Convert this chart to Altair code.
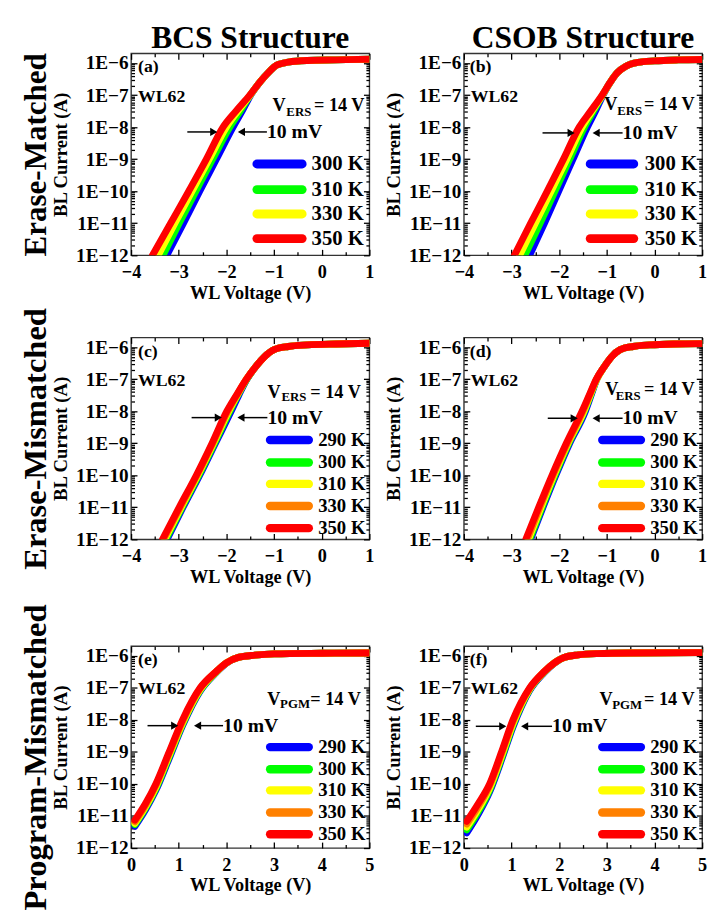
import altair as alt
import pandas as pd

FONT = "Liberation Serif"

# ---------------- data ----------------
# Panels (a)-(d): WL voltage (V) at each log10(BL current / A) level
LOG_STEEP = [-12, -11, -10, -9, -8, -7.5, -7]

A_TEMPS = ["300 K", "310 K", "330 K", "350 K"]
A_V_300 = [-3.25, -2.90, -2.56, -2.21, -1.86, -1.67, -1.49]
A_V_310 = [-3.33, -2.99, -2.64, -2.29, -1.93, -1.71, -1.50]
A_V_330 = [-3.43, -3.08, -2.72, -2.36, -2.00, -1.76, -1.50]
A_V_350 = [-3.55, -3.17, -2.79, -2.42, -2.07, -1.80, -1.51]
A_TAIL_V = [-1.30, -1.12, -0.95, -0.70, -0.30, 0.30, 1.00]
A_TAIL_LOG = [-6.60, -6.30, -6.07, -5.97, -5.92, -5.90, -5.88]

B_TEMPS = ["300 K", "310 K", "330 K", "350 K"]
B_V_300 = [-2.62, -2.31, -2.01, -1.71, -1.41, -1.24, -1.08]
B_V_310 = [-2.72, -2.40, -2.09, -1.78, -1.47, -1.28, -1.09]
B_V_330 = [-2.83, -2.50, -2.17, -1.84, -1.52, -1.31, -1.09]
B_V_350 = [-2.94, -2.60, -2.25, -1.91, -1.58, -1.34, -1.10]
B_TAIL_V = [-0.93, -0.78, -0.60, -0.35, 0.00, 0.50, 1.00]
B_TAIL_LOG = [-6.60, -6.30, -6.10, -5.98, -5.93, -5.90, -5.89]

C_TEMPS = ["290 K", "300 K", "310 K", "330 K", "350 K"]
C_V_290 = [-3.245, -2.91, -2.56, -2.23, -1.90, -1.74, -1.57]
C_V_300 = [-3.27, -2.93, -2.58, -2.25, -1.93, -1.76, -1.57]
C_V_310 = [-3.295, -2.95, -2.60, -2.27, -1.95, -1.77, -1.58]
C_V_330 = [-3.32, -2.97, -2.615, -2.285, -1.97, -1.78, -1.58]
C_V_350 = [-3.34, -2.99, -2.63, -2.30, -1.99, -1.79, -1.58]
C_TAIL_V = [-1.38, -1.20, -1.00, -0.70, -0.30, 0.30, 1.00]
C_TAIL_LOG = [-6.60, -6.30, -6.08, -5.98, -5.93, -5.90, -5.88]

D_TEMPS = ["290 K", "300 K", "310 K", "330 K", "350 K"]
D_V_290 = [-2.60, -2.34, -2.07, -1.78, -1.45, -1.33, -1.21]
D_V_300 = [-2.62, -2.36, -2.09, -1.80, -1.47, -1.34, -1.21]
D_V_310 = [-2.645, -2.38, -2.11, -1.815, -1.48, -1.35, -1.21]
D_V_330 = [-2.67, -2.405, -2.13, -1.83, -1.50, -1.36, -1.22]
D_V_350 = [-2.70, -2.43, -2.15, -1.85, -1.52, -1.37, -1.22]
D_TAIL_V = [-1.05, -0.90, -0.72, -0.45, -0.10, 0.40, 1.00]
D_TAIL_LOG = [-6.60, -6.30, -6.08, -5.98, -5.93, -5.90, -5.89]

# Panels (e)-(f): log10(BL current / A) at each WL voltage
E_TEMPS = ["290 K", "300 K", "310 K", "330 K", "350 K"]
E_V = [0.08, 0.30, 0.52, 0.80, 1.08, 1.45, 1.78, 2.00, 2.25, 2.60, 3.00, 4.00, 5.00]
E_LOG_290 = [-11.32, -10.81, -10.20, -9.20, -8.18, -7.10, -6.53, -6.23, -6.05, -5.98, -5.94, -5.92, -5.91]
E_LOG_300 = [-11.27, -10.76, -10.15, -9.15, -8.14, -7.08, -6.52, -6.22, -6.05, -5.98, -5.94, -5.92, -5.91]
E_LOG_310 = [-11.23, -10.72, -10.10, -9.10, -8.10, -7.05, -6.51, -6.22, -6.05, -5.98, -5.94, -5.92, -5.91]
E_LOG_330 = [-11.18, -10.67, -10.05, -9.05, -8.05, -7.02, -6.50, -6.22, -6.05, -5.98, -5.94, -5.92, -5.91]
E_LOG_350 = [-11.13, -10.62, -10.00, -9.00, -8.00, -7.00, -6.50, -6.22, -6.05, -5.98, -5.94, -5.92, -5.91]

F_TEMPS = ["290 K", "300 K", "310 K", "330 K", "350 K"]
F_V = [0.06, 0.30, 0.54, 0.79, 1.03, 1.38, 1.68, 1.90, 2.10, 2.40, 2.80, 3.50, 5.00]
F_LOG_290 = [-11.53, -10.95, -10.25, -9.25, -8.22, -7.08, -6.53, -6.23, -6.05, -5.97, -5.93, -5.91, -5.90]
F_LOG_300 = [-11.43, -10.87, -10.19, -9.19, -8.17, -7.06, -6.52, -6.22, -6.05, -5.97, -5.93, -5.91, -5.90]
F_LOG_310 = [-11.35, -10.79, -10.13, -9.13, -8.12, -7.04, -6.51, -6.22, -6.05, -5.97, -5.93, -5.91, -5.90]
F_LOG_330 = [-11.25, -10.70, -10.06, -9.06, -8.06, -7.02, -6.50, -6.22, -6.05, -5.97, -5.93, -5.91, -5.90]
F_LOG_350 = [-11.17, -10.62, -10.00, -9.00, -8.00, -7.00, -6.50, -6.22, -6.05, -5.97, -5.93, -5.91, -5.90]

COL_TITLES = ["BCS Structure", "CSOB Structure"]
ROW_TITLES = ["Erase-Matched", "Erase-Mismatched", "Program-Mismatched"]
X_TICKS_ERS = [-4, -3, -2, -1, 0, 1]
X_MINOR_ERS = [-3.5, -2.5, -1.5, -0.5, 0.5]
X_TICKS_PGM = [0, 1, 2, 3, 4, 5]
X_MINOR_PGM = [0.5, 1.5, 2.5, 3.5, 4.5]
Y_MAJOR = [1e-12, 1e-11, 1e-10, 1e-9, 1e-8, 1e-7, 1e-6]
Y_MINOR = [m * 10.0 ** k for k in range(-12, -6) for m in range(2, 10)]

# ---------------- styling / annotation placement ----------------
COLORS4 = ["#0000ff", "#00ff00", "#ffff00", "#ff0000"]
COLORS5 = ["#0000ff", "#00ff00", "#ffff00", "#ff8000", "#ff0000"]
W, H = 242, 205
HEAD = 0.085

ANNOT = {
    "a": dict(tag="(a)", tag_x=-3.855, wl_x=-3.855, sub="ERS", v_x=-0.756, sub_x=-0.219, eq_x=0.897,
              v_log=-7.51, sub_log=-7.66, arr=-8.15, l_from=-2.82, l_tip=-2.18, r_tip=-1.77, r_tail=-1.15),
    "b": dict(tag="(b)", tag_x=-3.876, wl_x=-3.855, sub="ERS", v_x=-0.777, sub_x=-0.26, eq_x=0.841,
              v_log=-7.48, sub_log=-7.63, arr=-8.18, l_from=-2.35, l_tip=-1.665, r_tip=-1.31, r_tail=-0.67),
    "c": dict(tag="(c)", tag_x=-3.855, wl_x=-3.855, sub="ERS", v_x=-0.86, sub_x=-0.32, eq_x=0.82,
              v_log=-7.58, sub_log=-7.68, arr=-8.20, l_from=-2.73, l_tip=-2.085, r_tip=-1.78, r_tail=-1.14),
    "d": dict(tag="(d)", tag_x=-3.876, wl_x=-3.855, sub="ERS", v_x=-0.76, sub_x=-0.29, eq_x=0.841,
              v_log=-7.50, sub_log=-7.65, arr=-8.22, l_from=-2.24, l_tip=-1.60, r_tip=-1.31, r_tail=-0.67),
    "e": dict(tag="(e)", tag_x=0.145, wl_x=0.145, sub="PGM", v_x=3.134, sub_x=3.754, eq_x=4.82,
              v_log=-7.52, sub_log=-7.64, arr=-8.18, l_from=0.345, l_tip=1.0, r_tip=1.31, r_tail=1.93),
    "f": dict(tag="(f)", tag_x=0.124, wl_x=0.145, sub="PGM", v_x=3.12, sub_x=3.74, eq_x=4.84,
              v_log=-7.52, sub_log=-7.66, arr=-8.20, l_from=0.25, l_tip=0.90, r_tip=1.19, r_tail=1.85),
}

LEG4 = [-9.15, -9.95, -10.71, -11.48]
LEG5_ERS = [-8.90, -9.60, -10.27, -10.96, -11.65]
LEG5_PGM = [-8.85, -9.54, -10.20, -10.89, -11.57]
LEGEND = {
    "a": dict(x1=-1.36, x2=-0.41, lx=-0.213, logs=LEG4, size=21, sw=9),
    "b": dict(x1=-1.35, x2=-0.435, lx=-0.205, logs=LEG4, size=21, sw=9),
    "c": dict(x1=-1.085, x2=-0.27, lx=-0.074, logs=LEG5_ERS, size=19, sw=8.5),
    "d": dict(x1=-1.097, x2=-0.285, lx=-0.089, logs=LEG5_ERS, size=19, sw=8.5),
    "e": dict(x1=2.917, x2=3.729, lx=3.926, logs=LEG5_PGM, size=19, sw=8.5),
    "f": dict(x1=2.903, x2=3.715, lx=3.911, logs=LEG5_PGM, size=19, sw=8.5),
}

LBL_X = dict(labelFont=FONT, labelFontSize=18.5, labelFontWeight="bold", labelColor="black")
LBL_Y = dict(labelFont=FONT, labelFontSize=19.5, labelFontWeight="bold", labelColor="black")
TTL = dict(titleFont=FONT, titleFontWeight="bold", titleColor="black")


def axis(orient, values, size, **kw):
    return alt.Axis(orient=orient, values=values, tickSize=size, offset=-size, domain=False, grid=False,
                    tickColor="black", tickWidth=1.3, **kw)


def build_panel(key, temps, colors, vlists, loglists, xdom, xmajor, xminor,
                col_title="", row_title="", row_size=33, row_y=None):
    rows = []
    for t, vs, ls in zip(temps, vlists, loglists):
        for i, (v, lg) in enumerate(zip(vs, ls)):
            rows.append({"T": t, "V": v, "I": 10.0 ** lg, "k": i})
    df = pd.DataFrame(rows)
    xs = alt.Scale(domain=xdom, nice=False, zero=False)
    ys = alt.Scale(type="log", domain=[1e-12, 2e-6], nice=False)
    cs = alt.Scale(domain=temps, range=colors)
    base = alt.Chart(df)

    lines = base.mark_line(strokeWidth=7, strokeCap="round", strokeJoin="round",
                           interpolate="monotone", clip=True).encode(
        x=alt.X("V:Q", scale=xs, axis=axis("bottom", xmajor, 6, labels=True, format="d", labelFlush=False,
                                          labelPadding=8, title="WL Voltage (V)", titleFontSize=18.5,
                                          titlePadding=2, **LBL_X, **TTL)),
        y=alt.Y("I:Q", scale=ys, axis=axis("left", Y_MAJOR, 6, labels=True,
                                          labelExpr="'1E\u2212' + round(-log(datum.value) / LN10)",
                                          labelPadding=3, labelOverlap=False, title="BL Current (A)",
                                          titleFontSize=19, titlePadding=5, **LBL_Y, **TTL)),
        color=alt.Color("T:N", scale=cs, legend=None),
        order=alt.Order("k:Q"),
    )
    left_minor_kw = dict(labels=False, title=row_title, titleFontSize=row_size, titlePadding=79,
                         titleLimit=600, **TTL)
    if row_y is not None:
        left_minor_kw["titleY"] = row_y
    minor1 = base.mark_line(strokeOpacity=0).encode(
        x=alt.X("V:Q", scale=xs, axis=axis("bottom", xminor, 3.5, labels=False, title="")),
        y=alt.Y("I:Q", scale=ys, axis=axis("left", Y_MINOR, 3.5, **left_minor_kw)),
        detail="T:N",
    )
    mirror = base.mark_line(strokeOpacity=0).encode(
        x=alt.X("V:Q", scale=xs, axis=axis("top", xmajor, 6, labels=False, title="")),
        y=alt.Y("I:Q", scale=ys, axis=axis("right", Y_MAJOR, 6, labels=False, title="")),
        detail="T:N",
    )
    minor2 = base.mark_line(strokeOpacity=0).encode(
        x=alt.X("V:Q", scale=xs, axis=axis("top", xminor, 3.5, labels=False, title="")),
        y=alt.Y("I:Q", scale=ys, axis=axis("right", Y_MINOR, 3.5, labels=False, title="")),
        detail="T:N",
    )

    a = ANNOT[key]
    g = LEGEND[key]
    nx = alt.X("V:Q", scale=xs, axis=None)
    ny = alt.Y("I:Q", scale=ys, axis=None)

    def txt(d, size, align, baseline):
        return alt.Chart(pd.DataFrame(d)).mark_text(font=FONT, fontSize=size, fontWeight="bold", color="black",
                                                    align=align, baseline=baseline).encode(x=nx, y=ny, text="t:N")

    # legend drawn inside the plot, coloured through the same colour scale
    leg_df = pd.DataFrame({"T": temps, "V": [g["x1"]] * len(temps), "V2": [g["x2"]] * len(temps),
                           "L": [g["lx"]] * len(temps), "I": [10 ** v for v in g["logs"]]})
    leg_sym = alt.Chart(leg_df).mark_rule(strokeWidth=g["sw"], strokeCap="round").encode(
        x=nx, x2="V2:Q", y=ny, color=alt.Color("T:N", scale=cs, legend=None))
    leg_txt = alt.Chart(leg_df).mark_text(font=FONT, fontSize=g["size"], fontWeight="bold", color="black",
                                          align="left", baseline="middle").encode(
        x=alt.X("L:Q", scale=xs, axis=None), y=ny, text="T:N")

    tags = txt({"V": [a["tag_x"], a["wl_x"]], "I": [10 ** -6.14, 10 ** -7.05], "t": [a["tag"], "WL62"]},
               18, "left", "middle")
    vbig = txt({"V": [a["v_x"], a["eq_x"]], "I": [10 ** a["v_log"]] * 2, "t": ["V", "= 14 V"]},
               18.5, "right", "alphabetic")
    vsub = txt({"V": [a["sub_x"]], "I": [10 ** a["sub_log"]], "t": [a["sub"]]}, 13, "right", "alphabetic")
    mv = txt({"V": [a["r_tail"]], "I": [10 ** (a["arr"] - 0.19)], "t": ["10 mV"]}, 20, "left", "alphabetic")
    rules = alt.Chart(pd.DataFrame({"V": [a["l_from"], a["r_tail"]],
                                    "V2": [a["l_tip"] - HEAD, a["r_tip"] + HEAD],
                                    "I": [10 ** a["arr"]] * 2})).mark_rule(
        strokeWidth=1.5, color="black").encode(x=nx, x2="V2:Q", y=ny)
    head_r = alt.Chart(pd.DataFrame({"V": [a["l_tip"] - HEAD], "I": [10 ** a["arr"]]})).mark_point(
        shape="triangle-right", filled=True, color="black", size=70, opacity=1).encode(x=nx, y=ny)
    head_l = alt.Chart(pd.DataFrame({"V": [a["r_tip"] + HEAD], "I": [10 ** a["arr"]]})).mark_point(
        shape="triangle-left", filled=True, color="black", size=70, opacity=1).encode(x=nx, y=ny)

    layer = alt.layer(lines, minor1, mirror, minor2, leg_sym, leg_txt, tags, vbig, vsub, mv, rules,
                      head_r, head_l).resolve_axis(x="independent", y="independent")
    props = dict(width=W, height=H)
    if col_title:
        props["title"] = alt.TitleParams(col_title, font=FONT, fontSize=32, fontWeight="bold", color="black",
                                         anchor="middle", frame="group", offset=-2)
    return layer.properties(**props)


pa = build_panel("a", A_TEMPS, COLORS4,
                 [A_V_300 + A_TAIL_V, A_V_310 + A_TAIL_V, A_V_330 + A_TAIL_V, A_V_350 + A_TAIL_V],
                 [LOG_STEEP + A_TAIL_LOG] * 4, [-4, 1], X_TICKS_ERS, X_MINOR_ERS,
                 col_title=COL_TITLES[0], row_title=ROW_TITLES[0], row_size=31.5)
pb = build_panel("b", B_TEMPS, COLORS4,
                 [B_V_300 + B_TAIL_V, B_V_310 + B_TAIL_V, B_V_330 + B_TAIL_V, B_V_350 + B_TAIL_V],
                 [LOG_STEEP + B_TAIL_LOG] * 4, [-4, 1], X_TICKS_ERS, X_MINOR_ERS,
                 col_title=COL_TITLES[1])
pc = build_panel("c", C_TEMPS, COLORS5,
                 [C_V_290 + C_TAIL_V, C_V_300 + C_TAIL_V, C_V_310 + C_TAIL_V, C_V_330 + C_TAIL_V,
                  C_V_350 + C_TAIL_V],
                 [LOG_STEEP + C_TAIL_LOG] * 5, [-4, 1], X_TICKS_ERS, X_MINOR_ERS,
                 row_title=ROW_TITLES[1])
pd_ = build_panel("d", D_TEMPS, COLORS5,
                  [D_V_290 + D_TAIL_V, D_V_300 + D_TAIL_V, D_V_310 + D_TAIL_V, D_V_330 + D_TAIL_V,
                   D_V_350 + D_TAIL_V],
                  [LOG_STEEP + D_TAIL_LOG] * 5, [-4, 1], X_TICKS_ERS, X_MINOR_ERS)
pe = build_panel("e", E_TEMPS, COLORS5, [E_V] * 5,
                 [E_LOG_290, E_LOG_300, E_LOG_310, E_LOG_330, E_LOG_350], [0, 5], X_TICKS_PGM, X_MINOR_PGM,
                 row_title=ROW_TITLES[2], row_y=H / 2 + 10)
pf = build_panel("f", F_TEMPS, COLORS5, [F_V] * 5,
                 [F_LOG_290, F_LOG_300, F_LOG_310, F_LOG_330, F_LOG_350], [0, 5], X_TICKS_PGM, X_MINOR_PGM)


def row(p1, p2):
    return alt.hconcat(p1, p2, spacing=8).resolve_scale(color="independent")


top = alt.vconcat(row(pa, pb), row(pc, pd_), spacing=3.5).resolve_scale(color="independent")
chart = alt.vconcat(top, row(pe, pf), spacing=16).resolve_scale(color="independent")
chart = chart.properties(padding={"left": 11, "top": 6, "right": 5, "bottom": 5}, background="white")
chart = chart.configure_view(stroke="#333333", strokeWidth=1.4)

chart.save("out.html", embed_options={"renderer": "svg", "actions": False})
